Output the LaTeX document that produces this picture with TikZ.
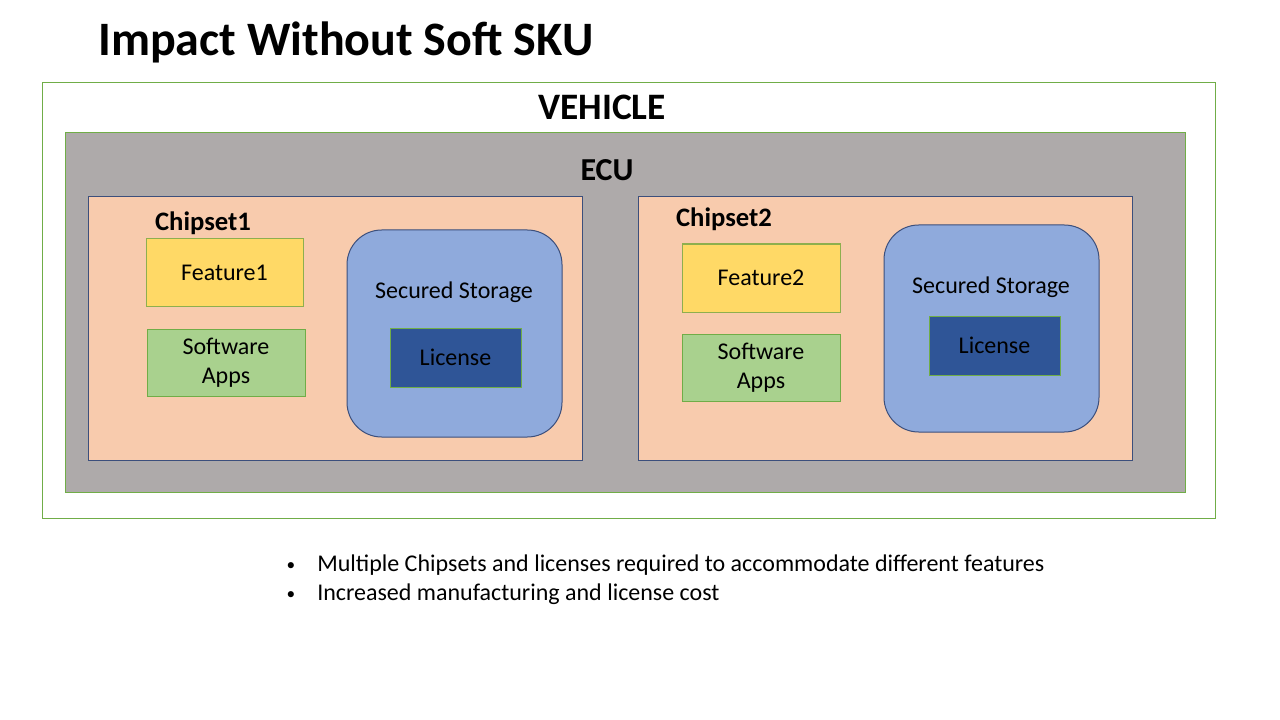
\documentclass[tikz,border=0pt]{standalone}
\usepackage{fontspec}
\setmainfont{Carlito}
\definecolor{vgreen}{HTML}{70AD47}
\definecolor{ecugray}{HTML}{AEAAAA}
\definecolor{chipfill}{HTML}{F8CBAD}
\definecolor{chipline}{HTML}{3C4F7C}
\definecolor{featfill}{HTML}{FFD966}
\definecolor{featline}{HTML}{8EAF4E}
\definecolor{swfill}{HTML}{A9D18E}
\definecolor{ssfill}{HTML}{8FAADC}
\definecolor{licfill}{HTML}{2F5597}
\tikzset{
  boxbase/.style={rectangle, inner sep=0pt, line width=0.75pt},
  vehbox/.style={boxbase, draw=vgreen, fill=white},
  ecubox/.style={boxbase, draw=vgreen, fill=ecugray},
  chipbox/.style={boxbase, draw=chipline, fill=chipfill},
  featbox/.style={boxbase, draw=featline, fill=featfill, font=\fontsize{18}{21}\selectfont},
  swbox/.style={boxbase, draw=vgreen, fill=swfill, align=center, font=\fontsize{18}{22}\selectfont},
  ssbox/.style={boxbase, draw=chipline, fill=ssfill, rounded corners=26pt},
  licbox/.style={boxbase, draw=vgreen, fill=licfill, font=\fontsize{18}{21}\selectfont},
  lbl/.style={inner sep=0pt},
}
\begin{document}
\begin{tikzpicture}[x=0.75pt,y=-0.75pt]
\useasboundingbox (0,0) rectangle (1280,720);
% title
\node[lbl, anchor=base west, font=\fontsize{36}{40}\selectfont\bfseries] (title) at (98,56) {Impact Without Soft SKU};
% vehicle
\node[vehbox, minimum width=879.75pt, minimum height=326.25pt] (veh) at (628.5,300.5) {};
\node[lbl, font=\fontsize{28}{32}\selectfont\bfseries] (vehl) at (602,107) {VEHICLE};
% ECU
\node[ecubox, minimum width=840pt, minimum height=269.25pt] (ecu) at (625,312.5) {};
\node[lbl, font=\fontsize{24}{28}\selectfont\bfseries] (ecul) at (607,170) {ECU};
% chipsets
\node[chipbox, minimum width=370.5pt, minimum height=197.25pt] (chip1) at (335,328.5) {};
\node[chipbox, minimum width=370.5pt, minimum height=197.25pt] (chip2) at (885,328.5) {};
\node[lbl, font=\fontsize{20}{24}\selectfont\bfseries] (chip1l) at (203,223) {Chipset1};
\node[lbl, font=\fontsize{20}{24}\selectfont\bfseries] (chip2l) at (724,219) {Chipset2};
% chipset 1 contents
\node[featbox, minimum width=117.75pt, minimum height=50.25pt] (feat1) at (224.5,272.5) {Feature1};
\node[swbox, minimum width=118.5pt, minimum height=50.25pt] (sw1) at (226,362.5) {Software\\Apps};
\node[ssbox, minimum width=161.25pt, minimum height=155.25pt] (ss1) at (454.5,333.5) {};
\node[lbl, font=\fontsize{18}{21}\selectfont] (ss1l) at (454,292) {Secured Storage};
\node[licbox, minimum width=98.25pt, minimum height=44.25pt] (lic1) at (455.5,357.5) {License};
% chipset 2 contents
\node[featbox, minimum width=118.5pt, minimum height=51pt] (feat2) at (761,278) {Feature2};
\node[swbox, minimum width=118.5pt, minimum height=50.25pt] (sw2) at (761,367.5) {Software\\Apps};
\node[ssbox, minimum width=161.25pt, minimum height=155.25pt] (ss2) at (991.5,328.5) {};
\node[lbl, font=\fontsize{18}{21}\selectfont] (ss2l) at (991,287) {Secured Storage};
\node[licbox, minimum width=98.25pt, minimum height=44.25pt] (lic2) at (994.5,345.5) {License};
% bullets
\node[lbl, anchor=base, font=\fontsize{13}{16}\selectfont] (b1) at (291,570) {•};
\node[lbl, anchor=base west, font=\fontsize{18}{21}\selectfont] (t1) at (317,571) {Multiple Chipsets and licenses required to accommodate different features};
\node[lbl, anchor=base, font=\fontsize{13}{16}\selectfont] (b2) at (291,599) {•};
\node[lbl, anchor=base west, font=\fontsize{18}{21}\selectfont] (t2) at (317,600) {Increased manufacturing and license cost};
\end{tikzpicture}
\end{document}
